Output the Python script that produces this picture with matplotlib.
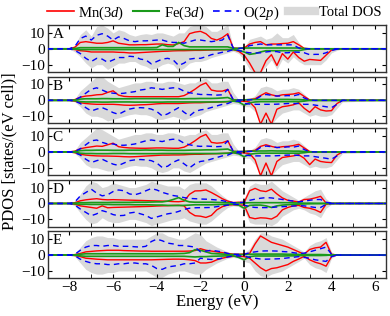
import numpy as np
import matplotlib
matplotlib.use('Agg')
import matplotlib.pyplot as plt
from matplotlib.ticker import MultipleLocator

plt.rcParams['font.family'] = 'Liberation Serif'
plt.rcParams['mathtext.fontset'] = 'custom'
plt.rcParams['mathtext.rm'] = 'Liberation Serif'
plt.rcParams['mathtext.it'] = 'Liberation Serif:italic'

# energy grid of the PDOS data (eV), -8 ... 4.5 in 0.25 steps
energy = np.arange(-8.0, 4.51, 0.25)
panels = ['A', 'B', 'C', 'D', 'E']

# ---------------- panel A ----------------
mn_up_A = [0, 1, 4, 4.5, 4, 3.5, 3.5, 4, 5, 3.5,
           3, 2.5, 2.5, 2.6, 2.6, 2.8, 3, 3, 2.6, 2.4,
           3.3, 4.5, 9.5, 10.5, 11, 9.5, 6.5, 5.5, 7, 9.5,
           0.5, 0.3, 0.5, 3, 4, 4.5, 2.5, 3, 3, 3.3,
           3.5, 4.5, 2.5, 0.3, 0, 0, 0, 0, 0, 0, 0]
mn_dn_A = [0, -0.5, -1.2, -1.5, -2, -2, -2, -2, -2, -2.2,
           -2.3, -2.6, -2.6, -2.4, -2.2, -2, -1.8, -1.6, -1.5, -1.3,
           -1.2, -1.2, -1.1, -1, -1, -0.9, -0.8, -0.7, -0.6, -0.5,
           -0.5, -1.6, -4, -9, -15, -15, -7.5, -3.7, -10.5, -3,
           -6.5, -2, -5.5, -7.8, -6.7, -7, -7.3, -4, -0.8, 0, 0]
fe_up_A = [0, 0.2, 0.7, 0.7, 0.7, 0.7, 0.7, 0.7, 0.7, 0.7,
           0.7, 0.7, 0.7, 0.7, 0.7, 0.7, 0.8, 2.5, 1.5, 1.5,
           4, 2, 1.2, 1.2, 1.2, 1.2, 1.2, 1.2, 1.2, 1.2,
           0.3, 0.3, 0.5, 0.5, 0.5, 0.5, 0.5, 0.5, 0.5, 0.5,
           0.5, 0.5, 0.5, 0.2, 0, 0, 0, 0, 0, 0, 0]
fe_dn_A = [0, -0.2, -0.5, -0.5, -0.5, -0.5, -0.5, -0.5, -0.5, -0.5,
           -0.5, -0.5, -0.5, -0.5, -0.5, -0.5, -0.5, -0.5, -0.5, -0.5,
           -0.5, -0.5, -0.5, -0.5, -0.5, -0.5, -0.5, -0.5, -0.5, -0.5,
           -0.5, -1, -2, -3.5, -3, -2, -1.2, -1.2, -1.2, -1.2,
           -1.2, -1.2, -1.2, -0.5, 0, 0, 0, 0, 0, 0, 0]
o_up_A = [0, 1.5, 6.5, 8, 5.5, 8.5, 9.5, 8, 5.5, 7.5,
          6.5, 5, 4.5, 5, 5, 5.2, 5.5, 5.5, 4.5, 4,
          4, 3.5, 4.5, 5.5, 5.5, 5, 4.5, 5, 5.5, 8.5,
          0.5, 0.3, 0.5, 2, 2.5, 3, 2.5, 2.5, 2.5, 2.5,
          2.5, 2.5, 0.5, 0, 0, 0, 0, 0, 0, 0, 0]
o_dn_A = [0, -1, -3, -6, -8, -6, -6.5, -8.5, -7, -5.5,
          -5.5, -4.7, -5, -6.5, -7, -9.5, -8, -6.5, -6, -7,
          -10.5, -9, -6.5, -6, -6, -5, -3.7, -3, -2.2, -1.6,
          -0.5, -1, -2, -2.5, -2.7, -2.5, -2, -1.6, -1.8, -2.5,
          -2.5, -2, -2.2, -2.5, -3.7, -3.5, -3.5, -2.5, -1, -0.3, 0]
tot_up_A = [0, 2, 9, 12, 8, 14, 15, 13, 10, 12,
            11, 9, 8, 9, 9.5, 9, 10, 10, 9, 8,
            10, 10, 14, 15, 15, 14, 11, 11, 13, 15,
            1, 0.5, 1, 6, 7, 8, 6, 7, 10, 7,
            7, 9, 4, 0.5, 0, 0, 0, 0, 0, 0, 0]
tot_dn_A = [0, -2, -5, -9, -12, -10, -10, -13, -11, -9,
            -9, -8, -8, -10, -11, -13, -12, -10, -9, -10,
            -14, -12, -9, -8, -8, -7, -5.5, -4.5, -3.5, -2.5,
            -1.5, -3, -7, -13, -15, -15, -11, -7, -13, -6.5,
            -9, -5, -8, -10, -10, -10, -10, -7, -2.5, -1, 0]

# ---------------- panel B ----------------
mn_up_B = [0, 0.5, 2, 2.7, 3, 3.5, 3.7, 5, 6, 3.3,
           2.5, 2.3, 2.3, 2.3, 2.3, 2.3, 2.3, 2.3, 2.3, 2.3,
           2.3, 3, 4.8, 7, 9.5, 11, 6.5, 5.8, 5.8, 6.9,
           0.3, 0.2, 0.3, 0.5, 1, 3, 4.8, 3.5, 2.7, 3.5,
           3.7, 4, 4.8, 2.5, 0.3, 0, 0, 0, 0, 0, 0]
mn_dn_B = [0, -0.5, -1.5, -2, -2.3, -2.5, -2.5, -2.5, -2.5, -2.7,
           -3, -3.1, -3, -2.8, -2.7, -2.5, -2.2, -2, -2, -2,
           -2, -1.8, -1.6, -1.5, -1.5, -1.3, -1.2, -1.1, -1, -0.8,
           -0.5, -0.5, -0.6, -1, -4.6, -15, -8, -15, -5.6, -4,
           -3.5, -2.8, -1.5, -5, -7.5, -4, -6, -6.7, -6.5, -2, 0]
fe_up_B = [0, 0.2, 0.8, 1, 1, 1, 1.1, 1.1, 1, 1,
           1, 1, 1.1, 1.1, 1.1, 1.1, 1.1, 1.1, 1, 1,
           1, 1, 1.1, 1.1, 1.2, 1.2, 1.2, 1.3, 1.5, 1.8,
           0.3, 0.2, 0.3, 0.5, 0.5, 0.6, 0.6, 0.6, 0.6, 0.6,
           0.6, 0.5, 0.5, 0.3, 0, 0, 0, 0, 0, 0, 0]
fe_dn_B = [0, -0.2, -0.8, -1, -1, -1, -1.1, -1.1, -1, -1,
           -1, -1, -1.1, -1.1, -1.1, -1.1, -1.1, -1.1, -1, -1,
           -1, -1, -1, -1, -1, -1, -1, -1, -0.9, -0.8,
           -0.5, -1, -3, -1.5, -1, -0.8, -0.8, -0.8, -0.8, -0.8,
           -0.8, -0.8, -0.8, -0.5, 0, 0, 0, 0, 0, 0, 0]
o_up_B = [0, 0.3, 2, 4.5, 7, 7.9, 6.5, 5, 4.5, 4.2,
          4.5, 5, 5.5, 6.5, 7, 7.9, 7.5, 6.9, 7.5, 7.9,
          7.5, 5.8, 4.8, 4.2, 3.7, 3.7, 3.5, 3.3, 3.5, 6.9,
          0.5, 0.2, 0.2, 0.3, 0.5, 2.5, 3.7, 3.2, 2.7, 2.8,
          3, 2.8, 3.7, 1.5, 0.1, 0, 0, 0, 0, 0, 0]
o_dn_B = [0, -0.5, -2, -4.6, -6.7, -5.5, -4.6, -6, -7.7, -8.8,
          -7, -5.5, -4.8, -4.6, -4.8, -5.5, -7, -9.8, -8.5, -6.5,
          -4.6, -7.5, -9.8, -7, -6, -5.5, -4.5, -3.5, -2.5, -2,
          -0.5, -0.5, -2, -2.3, -2.5, -2.5, -2.5, -2.5, -2.4, -2.2,
          -2, -2, -2, -2.5, -2.5, -3, -3.5, -4, -4.6, -2.5, 0]
tot_up_B = [0, 1, 6, 9, 12, 15, 15, 12, 10, 8,
            9, 10, 11, 11, 12, 12, 11, 11, 12, 12,
            11, 10, 11, 11, 13, 14, 11, 11, 12, 12,
            5, 0.5, 0.5, 1, 3, 8, 9, 8, 6, 7,
            7, 8, 7, 4, 0.5, 0, 0, 0, 0, 0, 0]
tot_dn_B = [0, -1, -4, -8, -10, -10, -11, -13, -12, -11,
            -10, -9, -8.5, -9, -9, -10, -12, -12, -11, -10,
            -11, -12.5, -11, -10, -9, -7, -6, -5, -4, -3,
            -2, -2.5, -4, -4, -7, -15, -15, -15, -11, -8,
            -7, -6, -6, -8, -10, -9, -10, -10, -9, -5, -1]

# ---------------- panel C ----------------
mn_up_C = [0, 0.5, 2, 2.7, 3.2, 3.7, 3.5, 4.5, 5.5, 3.3,
           2.8, 2.5, 2.4, 2.3, 2.3, 2.4, 2.5, 2.5, 2.4, 2.3,
           2.3, 3, 4.8, 7, 9.5, 11, 6, 5.5, 5.8, 7,
           0.3, 0.2, 0.3, 0.5, 1, 3.5, 4.5, 3.5, 2.7, 3.3,
           3.5, 4, 4.8, 2.5, 0.3, 0, 0, 0, 0, 0, 0]
mn_dn_C = [0, -0.5, -1.5, -2, -2.3, -2.5, -2.6, -2.6, -2.7, -2.8,
           -3, -3.1, -3, -2.8, -2.6, -2.4, -2.2, -2, -2, -1.9,
           -1.9, -1.8, -1.6, -1.5, -1.5, -1.3, -1.2, -1.1, -1, -0.8,
           -0.5, -0.5, -0.6, -1, -5, -15, -7, -15, -6, -3.5,
           -3, -2.5, -1.8, -4, -8, -4.5, -6, -6.5, -6.7, -2, 0]
fe_up_C = [0, 0.2, 0.8, 1, 1, 1.1, 1.1, 1.1, 1, 1,
           1, 1.1, 1.1, 1.1, 1.2, 1.1, 1.1, 1.1, 1, 1,
           1, 1, 1.1, 1.2, 1.2, 1.3, 1.3, 1.4, 1.6, 1.8,
           0.3, 0.2, 0.3, 0.5, 0.5, 0.6, 0.6, 0.7, 0.6, 0.6,
           0.6, 0.5, 0.5, 0.3, 0, 0, 0, 0, 0, 0, 0]
fe_dn_C = [0, -0.2, -0.8, -1, -1, -1.1, -1.1, -1.1, -1, -1,
           -1, -1.1, -1.1, -1.1, -1.1, -1.1, -1.1, -1, -1, -1,
           -1, -1, -1, -1, -1, -1, -1, -1, -0.9, -0.8,
           -0.5, -1.2, -3, -1.5, -1, -0.8, -0.8, -0.8, -0.8, -0.8,
           -0.8, -0.8, -0.8, -0.5, 0, 0, 0, 0, 0, 0, 0]
o_up_C = [0, 0.3, 2, 4.5, 7, 7.5, 6, 5, 5, 4.2,
          4.2, 4.5, 5, 6, 7, 7.5, 7, 6.5, 7.5, 8,
          7.5, 5.5, 4.5, 3.8, 3.5, 3.7, 3.5, 3.3, 3.5, 6.9,
          0.5, 0.2, 0.2, 0.3, 0.5, 2.8, 3.7, 3.3, 2.8, 2.8,
          3.2, 3, 3.7, 1.5, 0.1, 0, 0, 0, 0, 0, 0]
o_dn_C = [0, -0.5, -2, -4.6, -6.7, -5.5, -4.6, -6.2, -7.7, -8.5,
          -7, -5.5, -5, -4.8, -5, -5.5, -7, -9.8, -9, -6.5,
          -5, -7.5, -10, -7.5, -6, -5.5, -4.5, -3.5, -2.5, -2,
          -0.5, -0.5, -2, -2.3, -2.5, -2.5, -2.5, -2.5, -2.4, -2.2,
          -2, -2, -2.2, -2.5, -2.5, -3, -3.5, -4, -4.6, -2.5, 0]
tot_up_C = [0, 1, 6, 9, 12, 15, 14, 12, 10, 8,
            9, 10, 11, 11, 12, 12, 11, 11, 12, 12,
            11, 10, 11, 11, 13, 14, 11, 11, 12, 12,
            5, 0.5, 0.5, 1, 3, 8, 9, 8, 6, 7,
            7, 8, 7, 4, 0.5, 0, 0, 0, 0, 0, 0]
tot_dn_C = [0, -1, -4, -8, -10, -10, -11, -12, -12, -11,
            -10, -9, -8.5, -9, -9, -10, -12, -13, -12, -10,
            -10, -12, -13, -11, -9, -7, -6, -5, -4, -3,
            -2, -2.5, -4, -4, -8, -15, -15, -15, -11, -8,
            -7, -6, -6, -8, -10, -9, -10, -10, -9, -5, -1]

# ---------------- panel D ----------------
mn_up_D = [0, 0.5, 1.7, 2.3, 2.7, 3, 2.5, 2.3, 2.4, 2.3,
           2.2, 2.1, 2, 1.9, 1.8, 1.7, 1.6, 1.5, 1.4, 1.2,
           1.1, 1.5, 5.8, 7.9, 8, 8.5, 6.9, 5, 3, 1.5,
           0.6, 0.8, 0.6, 8, 9.5, 8, 7.5, 9, 6, 3.5,
           2, 1.5, 1, 2.5, 2.7, 3.5, 4.5, 0.3, 0, 0, 0]
mn_dn_D = [0, -0.5, -1.5, -2, -2.5, -3, -1.5, -2.7, -2.5, -2.4,
           -2.3, -2.2, -2.1, -2, -1.9, -1.8, -1.6, -1.5, -1.4, -1.2,
           -1.1, -1.5, -5.6, -7.7, -8, -8.8, -7.5, -4, -2, -1,
           -0.8, -1, -1, -8.8, -9.6, -9, -9.2, -9.8, -8, -4,
           -2.5, -1.5, -1.2, -2.5, -3, -4, -5.6, -0.5, 0, 0, 0]
fe_up_D = [0, 0.2, 0.5, 0.5, 0.6, 0.6, 0.6, 0.6, 0.7, 0.7,
           0.7, 0.7, 0.8, 0.8, 0.8, 0.9, 1, 1, 1.5, 2.5,
           3.7, 2, 1, 0.8, 0.8, 0.8, 0.8, 0.7, 0.6, 0.5,
           0.3, 0.3, 0.3, 0.5, 0.5, 0.5, 0.5, 0.5, 0.5, 0.5,
           0.5, 0.4, 0.3, 0.2, 0.2, 0.1, 0.1, 0, 0, 0, 0]
fe_dn_D = [0, -0.2, -0.5, -0.5, -0.6, -0.6, -0.6, -0.6, -0.7, -0.7,
           -0.7, -0.7, -0.8, -0.8, -0.8, -0.9, -1, -1, -1.2, -1.3,
           -1.3, -1.2, -1, -0.8, -0.8, -0.8, -0.8, -0.7, -0.6, -0.5,
           -0.5, -1, -3, -1.2, -1, -1, -1.5, -2.5, -1.5, -1,
           -0.8, -0.6, -0.4, -0.3, -0.2, -0.1, -0.1, 0, 0, 0, 0]
o_up_D = [0, 1, 4.8, 6.9, 9, 6.5, 4.8, 5.5, 7.5, 8.5,
          8, 6, 5.5, 6.5, 8, 9.4, 8.5, 7, 6, 5,
          4.5, 3.7, 3.2, 3, 2.8, 2.7, 2.5, 2.2, 1.8, 1,
          0.5, 0.5, 0.8, 2, 2.7, 3.3, 3.7, 3.5, 3, 2.5,
          2, 1.5, 1, 1.5, 2, 2.5, 2.5, 0.8, 0.2, 0, 0]
o_dn_D = [0, -1, -3.5, -5.6, -7.7, -6.5, -4.5, -5.5, -7, -7.7,
          -7.5, -6, -5.5, -6.5, -7.5, -9.4, -8.5, -7.5, -6.5, -6,
          -5, -3.7, -3, -2.7, -2.6, -2.6, -2.5, -2, -1.5, -1,
          -0.6, -0.6, -1, -2, -2.5, -2.6, -2.6, -2.5, -2.2, -2,
          -1.8, -1.6, -1.4, -1.5, -2, -2.5, -2.5, -0.6, 0, 0, 0]
tot_up_D = [0, 1.5, 6, 11, 14, 13, 10, 11, 13, 12,
            11, 10, 10, 11, 12, 14, 13, 12, 11, 11,
            11, 9, 12, 13, 13, 13, 11, 8, 5, 2.5,
            1, 1.5, 3, 11, 13, 12, 12, 14, 11, 8,
            6, 4, 2, 4, 6, 8, 9, 3, 0.5, 0, 0]
tot_dn_D = [0, -1.5, -6, -10, -13, -12, -9, -11, -12, -12,
            -11, -10, -10, -11, -12, -14, -13, -12, -11, -10,
            -10, -9, -11, -12, -13, -13, -11, -8, -5, -2.5,
            -1.5, -2, -4, -12, -13, -13, -13, -14, -12, -8,
            -6, -4, -3, -4, -6, -7, -9, -3, -0.5, 0, 0]

# ---------------- panel E ----------------
mn_up_E = [0, 0.3, 1, 2, 2.3, 2.6, 2.8, 3, 3, 3,
           2.8, 2.7, 2.6, 2.5, 2.5, 2.4, 2.4, 2.4, 2.4, 2.4,
           2.4, 2.4, 2.5, 2.8, 4, 3, 2.5, 2, 1.5, 1,
           0.6, 0.5, 0.6, 1, 7, 12, 10, 8, 7, 6,
           5, 3.5, 2, 0.5, 3.5, 4.5, 5, 8, 0.5, 0, 0]
mn_dn_E = [0, -0.3, -1, -2, -2.3, -2.6, -2.8, -3, -3, -3,
           -3, -3, -3, -3, -3, -3, -2.9, -2.8, -2.7, -2.6,
           -2.6, -2.7, -3, -3.5, -5, -5, -4.5, -3, -2, -1.2,
           -0.8, -0.8, -1, -2, -5, -8, -10, -8.5, -8, -7,
           -6, -4, -2.5, -0.8, -3, -4.5, -5.5, -7, -1, 0, 0]
fe_up_E = [0, 0.1, 0.5, 0.8, 0.8, 0.8, 0.8, 0.8, 0.8, 0.8,
           0.8, 0.8, 0.8, 0.8, 0.8, 0.8, 0.8, 0.8, 0.8, 0.8,
           0.9, 1, 1.5, 3.4, 3, 2, 1, 0.8, 0.6, 0.5,
           0.3, 0.3, 0.3, 0.5, 0.6, 0.6, 0.6, 0.6, 0.6, 0.6,
           0.5, 0.5, 0.4, 0.3, 0.3, 0.3, 0.3, 0.2, 0, 0, 0]
fe_dn_E = [0, -0.1, -0.5, -0.8, -0.8, -0.8, -0.8, -0.8, -0.8, -0.8,
           -0.8, -0.8, -0.8, -0.8, -0.8, -0.8, -0.8, -0.8, -0.8, -0.8,
           -0.8, -0.8, -1, -1.2, -1, -1, -0.8, -0.7, -0.6, -0.5,
           -0.5, -1.5, -3, -1, -0.6, -0.6, -0.6, -0.6, -0.6, -0.6,
           -0.5, -0.5, -0.4, -0.3, -0.3, -0.3, -0.3, -0.2, 0, 0, 0]
o_up_E = [0, 0.5, 3, 5, 6, 6, 5.5, 6, 6, 5.5,
          5.5, 5.5, 5.2, 5, 5.5, 8.5, 10, 9, 7.5, 7,
          6, 6, 5.5, 5, 2, 2.5, 3, 2.5, 2, 1,
          0.5, 0.4, 0.4, 1.5, 2, 2.5, 2.6, 2.6, 2.5, 2.2,
          2, 1.5, 1, 1.2, 2, 3, 4, 5, 0.5, 0, 0]
o_dn_E = [0, -0.5, -2.6, -4, -5, -5.5, -5.5, -6, -6, -5.5,
          -5.5, -5, -5, -5.5, -5.5, -6.5, -8.5, -9, -7.5, -7,
          -6.5, -5.5, -5.5, -5, -2, -2.5, -2.8, -2.5, -2, -1.2,
          -0.6, -0.5, -0.6, -1.5, -2, -2.5, -2.6, -2.5, -2.4, -2.2,
          -1.8, -1.4, -1, -1.5, -2, -3, -3.5, -4, -1, 0, 0]
tot_up_E = [0, 1, 5, 9, 11, 12, 12, 11, 11, 10,
            10, 10, 10, 10, 10, 12, 14, 14, 12, 11,
            10, 10, 12, 14, 13, 9, 7, 5, 3.5, 2,
            1, 1, 1.5, 4, 10, 14, 14, 12, 11, 10,
            8, 6, 4, 2, 6, 8, 9, 11, 2, 0, 0]
tot_dn_E = [0, -1, -5, -9, -11, -12, -12, -11, -11, -10,
            -10, -10, -10, -10, -10, -12, -14, -14, -12, -11,
            -10, -10, -11, -12, -12, -9, -7, -5, -3.5, -2,
            -1.5, -2, -4, -5, -10, -13, -14, -12, -11, -10,
            -8, -6, -4, -2, -6, -8, -9, -11, -2, 0, 0]

data = {
    'A': (mn_up_A, mn_dn_A, fe_up_A, fe_dn_A, o_up_A, o_dn_A, tot_up_A, tot_dn_A),
    'B': (mn_up_B, mn_dn_B, fe_up_B, fe_dn_B, o_up_B, o_dn_B, tot_up_B, tot_dn_B),
    'C': (mn_up_C, mn_dn_C, fe_up_C, fe_dn_C, o_up_C, o_dn_C, tot_up_C, tot_dn_C),
    'D': (mn_up_D, mn_dn_D, fe_up_D, fe_dn_D, o_up_D, o_dn_D, tot_up_D, tot_dn_D),
    'E': (mn_up_E, mn_dn_E, fe_up_E, fe_dn_E, o_up_E, o_dn_E, tot_up_E, tot_dn_E),
}

# pad with zeros out to the plot edges
x = np.r_[-9.0, energy, 6.5]
def pad(v):
    v = np.asarray(v, dtype=float)
    assert len(v) == len(energy), len(v)
    return np.r_[0.0, v, 0.0]

red = '#ff0000'
green = '#1a9a1a'
blue = '#0000ff'
grey = '#d9d9d9'

fig = plt.figure(figsize=(3.9, 3.16), dpi=100)
gs = fig.add_gridspec(5, 1, left=0.122, right=0.99, top=0.921, bottom=0.12, hspace=0.1)

for k, name in enumerate(panels):
    ax = fig.add_subplot(gs[k])
    mu, md, fu, fd, ou, od, tu, td = [pad(v) for v in data[name]]
    ax.fill_between(x, td, tu, color=grey, lw=0, zorder=1)
    ax.plot(x, mu, color=red, lw=1.0, zorder=2)
    ax.plot(x, md, color=red, lw=1.0, zorder=2)
    ax.plot(x, fu, color=green, lw=1.2, zorder=3)
    ax.plot(x, fd, color=green, lw=1.2, zorder=3)
    ax.plot(x, ou, color=blue, lw=1.0, ls=(0, (4, 3)), zorder=4)
    ax.plot(x, od, color=blue, lw=1.0, ls=(0, (4, 3)), zorder=4)
    ax.axvline(0, color='k', lw=1.2, ls=(0, (4, 2.5)), zorder=5)
    ax.set_xlim(-9, 6.5)
    ax.set_ylim(-14.5, 15)
    ax.set_yticks([-10, 0, 10])
    ax.xaxis.set_major_locator(MultipleLocator(2))
    ax.xaxis.set_minor_locator(MultipleLocator(1))
    ax.tick_params(which='both', direction='in', top=True, right=True, labelsize=11, pad=2)
    ax.tick_params(which='major', length=3)
    ax.tick_params(which='minor', length=3)
    for s in ax.spines.values():
        s.set_linewidth(1.0)
        s.set_color('#333333')
    ax.text(0.015, 0.93, name, transform=ax.transAxes, ha='left', va='top', fontsize=11)
    if k < 4:
        ax.set_xticklabels([])
    else:
        ax.set_xlabel('Energy (eV)', fontsize=12, labelpad=0)

fig.text(0.025, 0.52, 'PDOS [states/(eV cell)]', rotation=90, ha='center', va='center', fontsize=12)

handles = [
    plt.Line2D([], [], color=red, lw=1.2),
    plt.Line2D([], [], color=green, lw=1.5),
    plt.Line2D([], [], color=blue, lw=1.2, ls=(0, (4, 3))),
    plt.Line2D([], [], color=grey, lw=6),
]
labels = ['Mn(3$d$)', 'Fe(3$d$)', 'O(2$p$)', 'Total DOS']
fig.legend(handles, labels, loc='upper center', bbox_to_anchor=(0.55, 1.005), ncol=4,
           frameon=False, fontsize=10.5, handlelength=1.8, handletextpad=0.3,
           columnspacing=0.6, borderaxespad=0.2, borderpad=0.2)

fig.savefig('out.png', dpi=100)
